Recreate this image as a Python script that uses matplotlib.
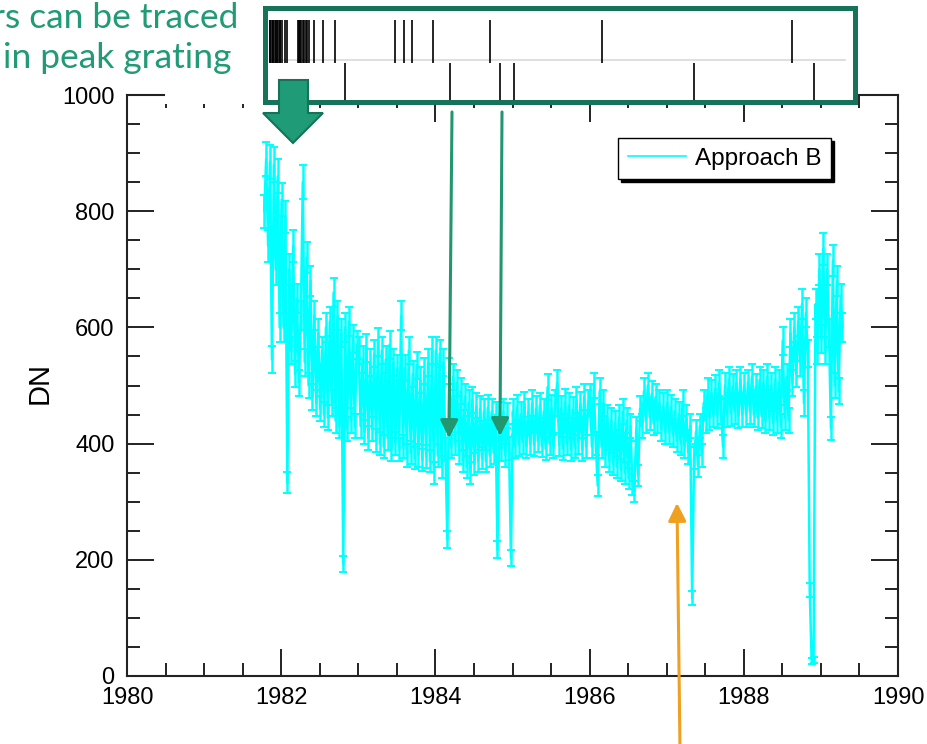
import numpy as np
import matplotlib
matplotlib.use('Agg')
import matplotlib.pyplot as plt
from matplotlib.patches import Rectangle, Polygon, FancyArrowPatch
from matplotlib.lines import Line2D

W, H = 928, 744

# DN per calendar year, sampled every 0.025 yr
dn_1981 = [800, 890, 740, 885, 545, 880, 700, 860, 600]
dn_1982 = [820, 600, 790, 333, 700, 560, 740, 520, 650, 505,
           620, 850, 540, 720, 500, 680, 480, 620, 470, 590,
           460, 560, 450, 600, 445, 610, 470, 660, 440, 620,
           430, 590, 193, 600, 425, 610, 440, 580, 430, 570]
dn_1983 = [560, 430, 545, 420, 565, 410, 540, 425, 555, 405,
           575, 400, 560, 395, 545, 410, 570, 390, 540, 400,
           530, 390, 620, 395, 530, 380, 560, 385, 520, 375,
           535, 380, 510, 372, 525, 378, 540, 370, 560, 350]
dn_1984 = [560, 380, 555, 360, 540, 390, 235, 525, 395, 515,
           400, 505, 385, 490, 370, 480, 360, 470, 350, 475,
           365, 465, 370, 460, 375, 455, 370, 462, 380, 455,
           385, 450, 217, 450, 390, 455, 380, 448, 392, 203]
dn_1985 = [455, 395, 462, 398, 450, 402, 468, 395, 455, 400,
           470, 398, 460, 405, 466, 396, 455, 392, 497, 400,
           462, 395, 470, 504, 398, 460, 392, 472, 400, 465,
           390, 458, 395, 475, 402, 468, 390, 480, 395, 470]
dn_1986 = [480, 395, 500, 400, 328, 490, 395, 470, 380, 445,
           370, 440, 365, 435, 360, 445, 355, 455, 350, 440,
           340, 430, 330, 318, 425, 345, 460, 430, 490, 440,
           500, 445, 485, 435, 480, 440, 470, 425, 465, 420]
dn_1987 = [470, 420, 462, 415, 455, 405, 450, 400, 470, 395,
           445, 385, 430, 134, 375, 420, 362, 430, 380, 470,
           440, 490, 445, 488, 450, 495, 448, 505, 455, 395,
           500, 450, 510, 452, 498, 455, 505, 448, 510, 450]
dn_1988 = [500, 450, 505, 455, 515, 450, 498, 445, 510, 448,
           505, 440, 515, 445, 500, 435, 510, 440, 505, 430,
           577, 445, 515, 440, 590, 505, 600, 520, 610, 540,
           640, 470, 625, 555, 148, 26, 27, 640, 560, 700]
dn_1989 = [580, 735, 560, 700, 590, 426, 715, 500, 680, 490, 650, 600]

segments = [dn_1981, dn_1982, dn_1983, dn_1984, dn_1985,
            dn_1986, dn_1987, dn_1988, dn_1989]
seg_start = [1981.78, 1982.005, 1983.005, 1984.005, 1985.005,
             1986.005, 1987.005, 1988.005, 1989.005]
step = 0.025

# dates flagged in the grating-peak strip (upper / lower row)
peak_hi = [1981.85, 1981.86, 1981.875, 1981.89, 1981.90, 1981.92, 1981.93,
           1981.95, 1981.96, 1981.98, 1981.99, 1982.01, 1982.05, 1982.07,
           1982.22, 1982.23, 1982.25, 1982.26, 1982.28, 1982.30, 1982.32,
           1982.34, 1982.36, 1982.43, 1982.54, 1982.70, 1983.48, 1983.59,
           1983.70, 1983.97, 1984.71, 1986.16, 1988.63]
peak_lo = [1982.83, 1984.19, 1984.84, 1985.02, 1987.35, 1988.91]

plt.rcParams['font.family'] = ['Liberation Sans', 'DejaVu Sans']

fig = plt.figure(figsize=(W / 100, H / 100), dpi=100)


def fpos(x, y):
    # pixel position -> figure fraction
    return x / W, 1 - y / H


ax = fig.add_axes([127 / W, 1 - 676 / H, 771 / W, 581 / H])

t = np.concatenate([s + step * np.arange(len(v)) for s, v in zip(seg_start, segments)])
dn = np.concatenate(segments).astype(float)
err = np.sqrt(dn)  # counting error

ax.errorbar(t, dn, yerr=err, fmt='-', color='#00ffff', lw=1.8,
            elinewidth=1.8, capsize=3, capthick=1.4)

ax.set_xlim(1980, 1990)
ax.set_ylim(0, 1000)
ax.set_xticks(np.arange(1980, 1991, 2))
ax.set_xticks(np.arange(1980, 1990.01, 0.5), minor=True)
ax.set_yticks(np.arange(0, 1001, 200))
ax.set_yticks(np.arange(0, 1001, 50), minor=True)
ax.tick_params(which='both', direction='in', top=True, right=True,
               color='#222222', width=1.4, labelsize=17)
ax.tick_params(which='major', length=19.5)
ax.tick_params(which='minor', length=9.5)
ax.tick_params(axis='x', pad=8)
ax.tick_params(axis='y', pad=9)
for sp in ax.spines.values():
    sp.set_linewidth(1.5)
    sp.set_color('#222222')

leg = ax.legend([Line2D([], [], color='#00ffff', lw=1.2)], ['Approach B'],
                loc='upper right', bbox_to_anchor=(0.913, 0.926),
                borderaxespad=0, fancybox=False, framealpha=1,
                edgecolor='black', fontsize=17.5, handlelength=2.4,
                handletextpad=0.35, borderpad=0.4,
                shadow={'color': 'black', 'alpha': 1})
leg.get_frame().set_linewidth(1.0)

fig.text(40 / W, 1 - 383 / H, 'DN', rotation=90, ha='center', va='center',
         fontsize=21)

# white area behind the heading text
fig.add_artist(Rectangle(fpos(165, 104), 100 / W, 104 / H,
                         transform=fig.transFigure, fc='white', ec='none', zorder=1))

# framed strip of flagged dates
fig.add_artist(Rectangle(fpos(265, 102), 590 / W, 94 / H,
                         transform=fig.transFigure, fc='white', ec='#16735a',
                         lw=3.6, zorder=2))
x0, x1 = 269, 846
ins = fig.add_axes([x0 / W, 1 - 100 / H, (x1 - x0) / W, 80 / H])
ins.set_zorder(3)
ins.set_xlim(1980 + (x0 - 127) / 771 * 10, 1980 + (x1 - 127) / 771 * 10)
ins.axis('off')
split = 0.4625
ins.axhline(split, color='#d9d9d9', lw=1.2)
ins.vlines(peak_hi, split, 1, transform=ins.get_xaxis_transform(),
           color='black', lw=1.2)
ins.vlines(peak_lo, 0, split, transform=ins.get_xaxis_transform(),
           color='black', lw=1.2)

green = '#219a76'
fig.text(238 / W, 1 - 28 / H, 'rs can be traced', ha='right', va='baseline',
         fontsize=25.5, color=green, family=['Lato', 'DejaVu Sans'], zorder=4)
fig.text(231 / W, 1 - 68 / H, 'in peak grating', ha='right', va='baseline',
         fontsize=25.5, color=green, family=['Lato', 'DejaVu Sans'], zorder=4)

# block arrow
pts = [(279, 80), (308, 80), (308, 113), (323, 113), (293, 143), (263, 113), (279, 113)]
fig.add_artist(Polygon([fpos(*p) for p in pts], closed=True,
                       transform=fig.transFigure, fc='#1f9b77', ec='#16735a',
                       lw=1.5, zorder=5))

# thin arrows
for a, b, c in [((452, 112), (449, 438), '#22966f'),
                ((502, 112), (500, 436), '#22966f'),
                ((680, 750), (677, 503), '#f0a020')]:
    fig.add_artist(FancyArrowPatch(fpos(*a), fpos(*b), transform=fig.transFigure,
                                   arrowstyle='-|>,head_length=1.08,head_width=0.54',
                                   mutation_scale=10, color=c, lw=2.2,
                                   shrinkA=0, shrinkB=0, zorder=5))

fig.savefig('out.png', dpi=100)
